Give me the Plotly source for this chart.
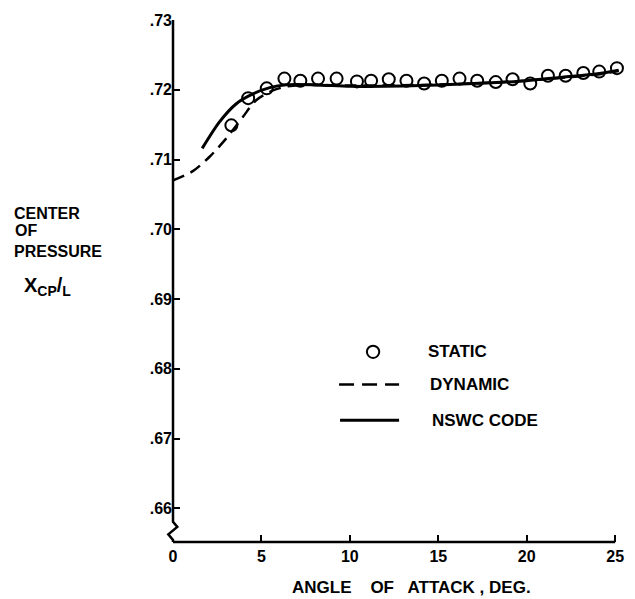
import plotly.graph_objects as go

# ---- data ----
static_alpha = [3.3, 4.25, 5.3, 6.3, 7.2, 8.2, 9.25, 10.4, 11.2, 12.2, 13.2, 14.2,
                15.2, 16.2, 17.2, 18.25, 19.2, 20.2, 21.2, 22.2, 23.2, 24.1, 25.1]
static_xcp = [0.7149, 0.7188, 0.7202, 0.7216, 0.7213, 0.7216, 0.7216, 0.7212, 0.7213,
              0.7215, 0.7213, 0.7209, 0.7213, 0.7216, 0.7213, 0.7211, 0.7215, 0.7209,
              0.7220, 0.7220, 0.7224, 0.7226, 0.7231]

dynamic_alpha = [0.0, 1.1, 2.07, 3.0, 3.95, 4.7, 5.65, 6.5, 7.5, 10.0, 14.0, 18.0, 21.0, 24.0, 25.2]
dynamic_xcp = [0.7070, 0.7083, 0.7104, 0.7130, 0.7161, 0.7185, 0.7199, 0.7205, 0.7207,
               0.7206, 0.7207, 0.7210, 0.7215, 0.7222, 0.7227]

nswc_alpha = [1.65, 2.63, 3.58, 4.52, 5.47, 6.41, 8.0, 10.0, 12.0, 14.0, 16.0, 18.0, 20.0, 22.0, 24.0, 25.2]
nswc_xcp = [0.7116, 0.7154, 0.7180, 0.7194, 0.7203, 0.7207, 0.7207, 0.7205, 0.7205,
            0.7206, 0.7208, 0.7210, 0.7213, 0.7218, 0.7223, 0.7228]

x_ticks = [0, 5, 10, 15, 20, 25]
x_ticktext = ["0", "5", "10", "15", "20", "25"]
y_ticks = [0.66, 0.67, 0.68, 0.69, 0.70, 0.71, 0.72, 0.73]
y_ticktext = [".66", ".67", ".68", ".69", ".70", ".71", ".72", ".73"]

# ---- layout geometry ----
W, H = 635, 599
X_MAX_AXIS = 25.0          # drawn axis end
X_RANGE = [0, 25.5]        # a little room so the last marker is not hidden
ML, MT, MB = 173, 15, 57
PX_PER_DEG = 442 / 25.0
PW = PX_PER_DEG * X_RANGE[1]
MR = W - ML - PW
PH = H - MT - MB
Y_MIN, Y_MAX = 0.65517, 0.73
FONT = "Liberation Sans"


def px(xp):
    return (xp - ML) / PW


def py(yp):
    return (H - MB - yp) / PH


fig = go.Figure()

fig.add_trace(go.Scatter(
    x=dynamic_alpha, y=dynamic_xcp, mode="lines", name="DYNAMIC",
    line=dict(color="black", width=2.5, dash="12px,7px", shape="spline", smoothing=0.8),
    cliponaxis=False, showlegend=False))
fig.add_trace(go.Scatter(
    x=nswc_alpha, y=nswc_xcp, mode="lines", name="NSWC CODE",
    line=dict(color="black", width=3, shape="spline", smoothing=0.8),
    cliponaxis=False, showlegend=False))
fig.add_trace(go.Scatter(
    x=static_alpha, y=static_xcp, mode="markers", name="STATIC",
    marker=dict(symbol="circle-open", size=12, color="black", line=dict(width=2, color="black")),
    cliponaxis=False, showlegend=False))

# x-axis line ending at 25
fig.add_shape(type="line", xref="x", yref="paper", x0=0, x1=X_MAX_AXIS, y0=0, y1=0,
              line=dict(color="black", width=2.5), layer="above")

# y-axis line with break (zigzag) near the bottom, in paper coordinates
pts = [(173, 15), (173, 521.7), (177.3, 526.7), (168.3, 534.3), (173, 540), (173, 542)]
path = "M " + " L ".join(f"{px(a):.5f},{py(b):.5f}" for a, b in pts)
fig.add_shape(type="path", path=path, xref="paper", yref="paper",
              line=dict(color="black", width=2.5), layer="above")

# manual legend
fig.add_shape(type="circle", xref="paper", yref="paper",
              x0=px(366.8), x1=px(379.2), y0=py(356.2), y1=py(343.8),
              line=dict(color="black", width=2))
fig.add_shape(type="line", xref="paper", yref="paper",
              x0=px(339), x1=px(399), y0=py(383), y1=py(383),
              line=dict(color="black", width=2.5, dash="15px,8px"))
fig.add_shape(type="line", xref="paper", yref="paper",
              x0=px(340), x1=px(399), y0=py(419), y1=py(419),
              line=dict(color="black", width=3))

lab_font = dict(family=FONT, size=17, color="black", weight="bold")
for txt, xl, yc in [("STATIC", 426, 350), ("DYNAMIC", 428, 383), ("NSWC CODE", 430, 419)]:
    fig.add_annotation(text=txt, xref="paper", yref="paper", x=px(xl), y=py(yc),
                       xanchor="left", yanchor="middle", showarrow=False, font=lab_font)

# y-axis title
ttl_font = dict(family=FONT, size=16, color="black", weight="bold")
for txt, xl, yc in [("CENTER", 12, 210), ("OF", 13, 228), ("PRESSURE", 12, 249)]:
    fig.add_annotation(text=txt, xref="paper", yref="paper", x=px(xl), y=py(yc),
                       xanchor="left", yanchor="middle", showarrow=False, font=ttl_font)
fig.add_annotation(text="X<sub>CP</sub>/<sub>L</sub>", xref="paper", yref="paper",
                   x=px(22), y=py(284), xanchor="left", yanchor="middle", showarrow=False,
                   font=dict(family=FONT, size=20, color="black", weight="bold"))

# x-axis title
fig.add_annotation(text="ANGLE\u00a0\u00a0\u00a0 OF\u00a0\u00a0 ATTACK\u00a0,\u00a0DEG.",
                   xref="paper", yref="paper", x=px(411), y=py(588),
                   xanchor="center", yanchor="middle", showarrow=False, font=lab_font)

tick_font = dict(family=FONT, size=16, color="black", weight="bold")
fig.update_xaxes(range=X_RANGE, showline=False,
                 ticks="inside", ticklen=7, tickwidth=2, tickcolor="black",
                 tickvals=x_ticks, ticktext=x_ticktext, tickfont=tick_font,
                 showgrid=False, zeroline=False, ticklabelstandoff=3)
fig.update_yaxes(range=[Y_MIN, Y_MAX], showline=False,
                 ticks="inside", ticklen=7, tickwidth=2, tickcolor="black",
                 tickvals=y_ticks, ticktext=y_ticktext, tickfont=tick_font,
                 showgrid=False, zeroline=False, ticklabelstandoff=0)

fig.update_layout(width=W, height=H, margin=dict(l=ML, r=MR, t=MT, b=MB),
                  plot_bgcolor="white", paper_bgcolor="white", showlegend=False)

fig.write_html("out.html", config={"displayModeBar": False},
               post_script="document.body.style.margin='0';")
